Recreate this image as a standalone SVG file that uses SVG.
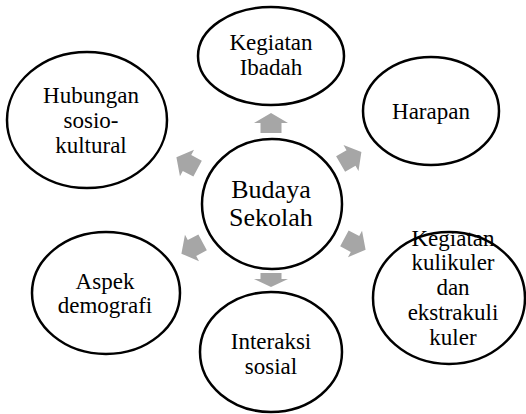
<svg xmlns="http://www.w3.org/2000/svg" width="526" height="414" viewBox="0 0 526 414">
<style>
.n{fill:#fff;stroke:#000;stroke-width:2.5}
.a{fill:#a6a6a6}
text{font-family:'Liberation Serif','Times New Roman',serif;font-size:23px;fill:#000;text-anchor:middle}
.c{font-size:26px}
</style>
<rect width="526" height="414" fill="#fff"/>
<g id="connectors">
<path class="a" transform="translate(271,123) rotate(-90)" d="M-10,-10.5 L0,-10.5 L0,-17 L10,0 L0,17 L0,10.5 L-10,10.5Z"/>
<path class="a" transform="translate(351,158) rotate(-30)" d="M-12,-9 L0,-9 L0,-15 L12,0 L0,15 L0,9 L-12,9Z"/>
<path class="a" transform="translate(355,244) rotate(28)" d="M-12,-9 L0,-9 L0,-15 L12,0 L0,15 L0,9 L-12,9Z"/>
<path class="a" transform="translate(271,280) rotate(90)" d="M-7,-10.5 L-1,-10.5 L-1,-17 L7,0 L-1,17 L-1,10.5 L-7,10.5Z"/>
<path class="a" transform="translate(192,248) rotate(152)" d="M-12,-9 L0,-9 L0,-15 L12,0 L0,15 L0,9 L-12,9Z"/>
<path class="a" transform="translate(187,163) rotate(208)" d="M-12,-9 L0,-9 L0,-15 L12,0 L0,15 L0,9 L-12,9Z"/>
</g>
<g id="budaya">
<ellipse class="n" cx="272" cy="204" rx="70" ry="65"/>
<text class="c" x="271" y="198">Budaya</text>
<text class="c" x="271" y="226">Sekolah</text>
</g>
<g id="ibadah">
<ellipse class="n" cx="271" cy="56" rx="73" ry="49"/>
<text x="271" y="50">Kegiatan</text>
<text x="271" y="75">Ibadah</text>
</g>
<g id="harapan">
<ellipse class="n" cx="431" cy="111" rx="68" ry="54"/>
<text x="431" y="119">Harapan</text>
</g>
<g id="kulikuler">
<ellipse class="n" cx="449" cy="298" rx="76" ry="66"/>
<text x="453" y="246">Kegiatan</text>
<text x="453" y="270">kulikuler</text>
<text x="453" y="295">dan</text>
<text x="453" y="320">ekstrakuli</text>
<text x="453" y="345">kuler</text>
</g>
<g id="interaksi">
<ellipse class="n" cx="271" cy="352" rx="71" ry="60"/>
<text x="271" y="349">Interaksi</text>
<text x="271" y="374">sosial</text>
</g>
<g id="aspek">
<ellipse class="n" cx="106" cy="293" rx="74" ry="61"/>
<text x="105" y="289">Aspek</text>
<text x="105" y="313">demografi</text>
</g>
<g id="hubungan">
<ellipse class="n" cx="87" cy="120" rx="80" ry="68"/>
<text x="91" y="103">Hubungan</text>
<text x="91" y="128">sosio-</text>
<text x="91" y="153">kultural</text>
</g>
</svg>
